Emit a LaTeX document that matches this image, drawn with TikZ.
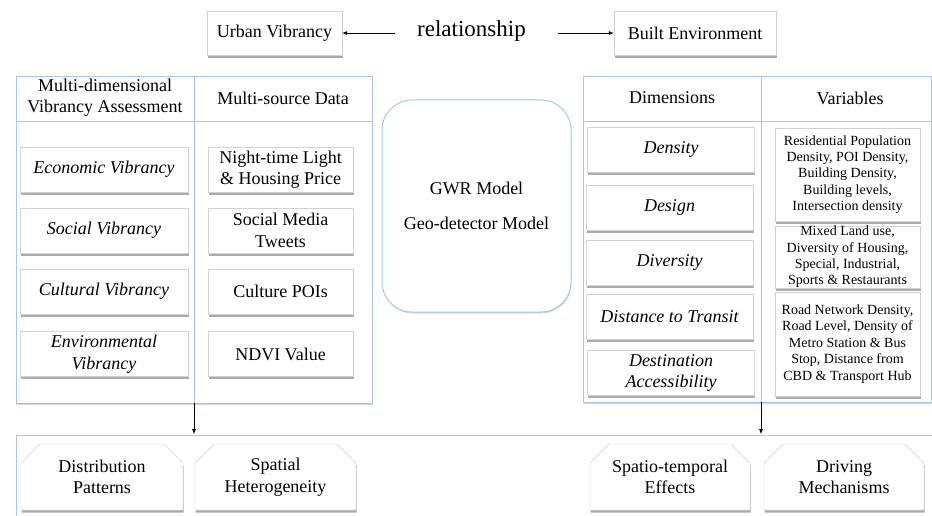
\documentclass[tikz,border=0pt]{standalone}
\usepackage{fontspec}
\setmainfont{Liberation Serif}
\newfontfamily\tnr{Liberation Serif}
\usetikzlibrary{shadows,shapes.misc,arrows.meta}
\definecolor{tblue}{HTML}{A9C4EB}
\definecolor{gblue}{HTML}{9CCDEE}
\definecolor{bgray}{HTML}{D2D2D2}
\tikzset{
  cell/.style={draw=bgray, fill=white, align=center, inner sep=0pt,
    drop shadow={shadow xshift=0.6pt, shadow yshift=-2.6pt, opacity=0.55, fill=black!60},
    font=\tnr\fontsize{18}{21.5}\selectfont},
  itcell/.style={cell, font=\tnr\fontsize{18}{21.5}\selectfont\itshape},
  varcell/.style={cell, font=\tnr\fontsize{14}{16.4}\selectfont},
  endcell/.style={cell, chamfered rectangle, chamfered rectangle xsep=10pt, chamfered rectangle ysep=9pt,
    chamfered rectangle corners={north west,north east}},
  tablebox/.style={draw=tblue, line width=0.9pt, inner sep=0pt,
    drop shadow={shadow xshift=0.5pt, shadow yshift=-1.5pt, opacity=0.35, fill=black!50}},
  tline/.style={draw=tblue, line width=0.9pt},
  head/.style={align=center, inner sep=0pt, font=\tnr\fontsize{18}{21}\selectfont},
  arr/.style={-{Latex[length=5pt,width=4pt]}, line width=0.6pt},
}
\begin{document}
\begin{tikzpicture}[x=1pt,y=-1pt]
\useasboundingbox (0,0) rectangle (932,516);
% top
\node[cell, minimum width=135pt, minimum height=44pt] (uv) at (274.5,33) {Urban Vibrancy};
\node[cell, minimum width=162pt, minimum height=44pt] (be) at (695,33) {Built Environment};
\node[head, font=\tnr\fontsize{23}{26}\selectfont] (rel) at (471.5,31) {relationship};
\coordinate (relL) at (395,33);
\coordinate (relR) at (558,33);
\draw[arr] (relL) -- (uv.east);
\draw[arr] (relR) -- (be.west);
% left table
\node[tablebox, fill=white, minimum width=356pt, minimum height=327pt] (tabL) at (194,239.5) {};
\draw[tline] (16,121) -- (372,121);
\draw[tline] (194,76) -- (194,403);
\node[head] (hL1) at (105,98) {Multi-dimensional\\Vibrancy Assessment};
\node[head] (hL2) at (283,98) {Multi-source Data};
\node[itcell, minimum width=168pt, minimum height=45pt] (ev) at (104,169.5) {Economic Vibrancy};
\node[itcell, minimum width=168pt, minimum height=45pt] (sv) at (104,230.5) {Social Vibrancy};
\node[itcell, minimum width=168pt, minimum height=45pt] (cv) at (104,291.5) {Cultural Vibrancy};
\node[itcell, minimum width=168pt, minimum height=45pt] (env) at (104,354) {Environmental\\Vibrancy};
\node[cell, minimum width=145pt, minimum height=45pt] (nl) at (280.5,169.5) {Night-time Light\\\& Housing Price};
\node[cell, minimum width=145pt, minimum height=45pt] (sm) at (280.5,230.5) {Social Media\\Tweets};
\node[cell, minimum width=145pt, minimum height=45pt] (cp) at (280.5,291.5) {Culture POIs};
\node[cell, minimum width=145pt, minimum height=45pt] (nd) at (280.5,354) {NDVI Value};
% GWR
\node[draw=gblue, line width=1pt, fill=white, rounded corners=30pt, minimum width=189pt, minimum height=212pt,
  align=center, font=\tnr\fontsize{18}{35}\selectfont,
  drop shadow={shadow xshift=0.5pt, shadow yshift=-1.5pt, opacity=0.3, fill=black!50}] (gwr) at (476.5,206)
  {GWR Model\\Geo-detector Model};
% right table
\node[tablebox, fill=white, minimum width=348pt, minimum height=326pt] (tabR) at (757,239) {};
\draw[tline] (583,121) -- (931,121);
\draw[tline] (761,76) -- (761,402);
\node[head] (hR1) at (672,98) {Dimensions};
\node[head] (hR2) at (850,98) {Variables};
\node[itcell, minimum width=167pt, minimum height=45pt] (den) at (671,149.5) {Density};
\node[itcell, minimum width=167pt, minimum height=45pt] (des) at (669.5,207.5) {Design};
\node[itcell, minimum width=167pt, minimum height=45pt] (div) at (669.5,262.5) {Diversity};
\node[itcell, minimum width=167pt, minimum height=45pt] (dtt) at (669.5,316.5) {Distance to Transit};
\node[itcell, minimum width=167pt, minimum height=45pt] (dac) at (671,373) {Destination\\Accessibility};
\node[varcell, minimum width=145pt, minimum height=93pt] (v1) at (847.5,174.5) {Residential Population\\Density, POI Density,\\Building Density,\\Building levels,\\Intersection density};
\node[varcell, minimum width=145pt, minimum height=60pt] (v2) at (847.5,257) {Mixed Land use,\\Diversity of Housing,\\Special, Industrial,\\Sports \& Restaurants};
\node[varcell, minimum width=145pt, minimum height=104pt] (v3) at (847.5,344) {Road Network Density,\\Road Level, Density of\\Metro Station \& Bus\\Stop, Distance from\\CBD \& Transport Hub};
% bottom panel
\draw[tline] (16,516) -- (16,435) -- (932,435);
\coordinate (botL) at (194,434);
\coordinate (topR) at (761,402);
\coordinate (botR) at (761,434);
\draw[arr] (tabL.south) -- (botL);
\draw[arr] (topR) -- (botR);
\node[endcell, minimum width=162pt, minimum height=66pt] (dp) at (102,477) {Distribution\\Patterns};
\node[endcell, minimum width=161pt, minimum height=66pt] (sh) at (275.5,477) {Spatial\\Heterogeneity};
\node[endcell, minimum width=160pt, minimum height=66pt] (st) at (670,477) {Spatio-temporal\\Effects};
\node[endcell, minimum width=160pt, minimum height=66pt] (dm) at (844,477) {Driving\\Mechanisms};
\end{tikzpicture}
\end{document}
